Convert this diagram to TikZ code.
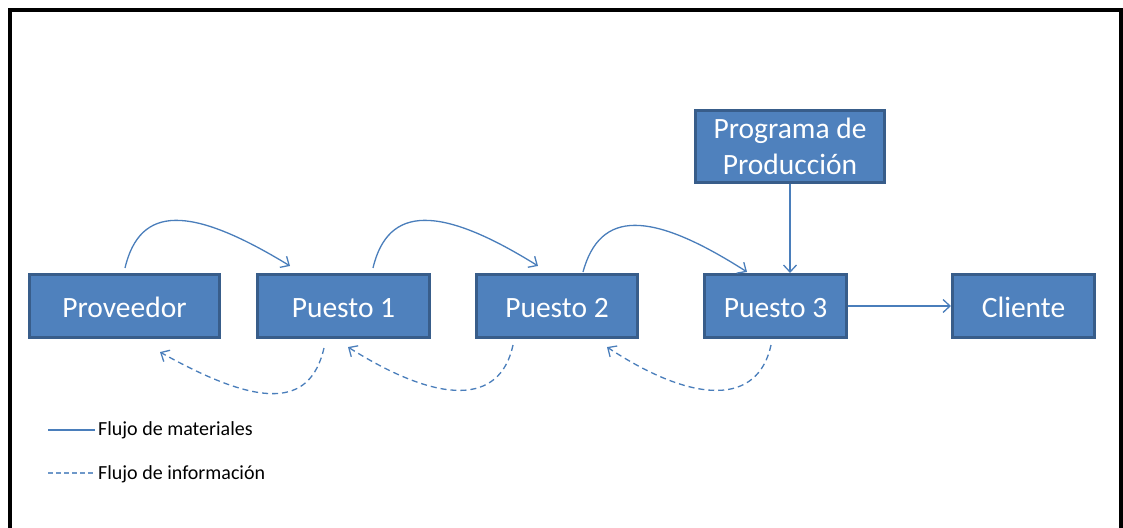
\documentclass[tikz,border=0pt]{standalone}
\usepackage{fontspec}
\setmainfont{Carlito}
\usetikzlibrary{arrows.meta,calc}

\definecolor{boxfill}{HTML}{4F81BD}
\definecolor{boxline}{HTML}{385D8A}
\definecolor{flowline}{HTML}{4A7EBB}

\tikzset{
  stage/.style={draw=boxline, fill=boxfill, line width=2.6pt,
    minimum height=63.5pt, text=white, inner sep=0pt,
    font=\fontsize{29.5}{36}\selectfont, text height=22pt, text depth=0pt},
  planbox/.style={draw=boxline, fill=boxfill, line width=2.6pt,
    minimum width=189.5pt, minimum height=72.5pt, text=white, inner sep=0pt,
    align=center, font=\fontsize{29.5}{36}\selectfont},
  tipbarb/.style={-{Straight Barb[length=7pt,width=13pt,line width=1.3pt]}},
  material/.style={draw=flowline, line width=1.3pt, tipbarb},
  info/.style={draw=flowline, line width=1.3pt, dash pattern=on 6pt off 4pt, tipbarb},
  legendtext/.style={anchor=west, inner sep=0pt, font=\fontsize{20}{24}\selectfont}
}

\begin{document}
\begin{tikzpicture}[x=1pt, y=-1pt]
  \useasboundingbox (0,0) rectangle (1123,527);

  % outer frame (open at the bottom edge of the page)
  \draw[line width=3.2pt, line cap=rect] (10,527) -- (10,10) -- (1121,10) -- (1121,527);

  % stations of the process
  \node[stage, minimum width=190.5pt] (prov) at (124.5,306) {Proveedor};
  \node[stage, minimum width=172.5pt] (p1)   at (343.5,306) {Puesto 1};
  \node[stage, minimum width=161.5pt] (p2)   at (557,306)   {Puesto 2};
  \node[stage, minimum width=142.5pt] (p3)   at (775.5,306) {Puesto 3};
  \node[stage, minimum width=142.5pt] (cli)  at (1023.5,306) {Cliente};
  \node[planbox] (prog) at (790,146.5) {Programa de\\Producción};

  % material flow
  \draw[material] ([xshift=0.5pt,yshift=5pt]prov.north)
    .. controls ($(prov.north)+(15.5,-68)$) and ($(prov.north)+(65.5,-68)$)
    .. ([xshift=-53.5pt,yshift=7pt]p1.north);
  \draw[material] ([xshift=29.5pt,yshift=5pt]p1.north)
    .. controls ($(p1.north)+(44.5,-68)$) and ($(p1.north)+(96.5,-68)$)
    .. ([xshift=-19pt,yshift=7pt]p2.north);
  \draw[material] ([xshift=26pt,yshift=1pt]p2.north)
    .. controls ($(p2.north)+(43,-63)$) and ($(p2.north)+(93,-63)$)
    .. ([xshift=-28.5pt,yshift=1pt]p3.north);
  \draw[material] (prog.south) -- (prog.south |- p3.north);
  \draw[material] (p3.east) -- (cli.west);

  % information flow
  \draw[info] ([xshift=-19.5pt,yshift=-9pt]p1.south)
    .. controls ($(p1.south)+(-33.5,69)$) and ($(p1.south)+(-83.5,69)$)
    .. ([xshift=35.5pt,yshift=-13pt]prov.south);
  \draw[info] ([xshift=-44pt,yshift=-6pt]p2.south)
    .. controls ($(p2.south)+(-57,66)$) and ($(p2.south)+(-117,66)$)
    .. ([xshift=4.5pt,yshift=-8pt]p1.south);
  \draw[info] ([xshift=-4.5pt,yshift=-6pt]p3.south)
    .. controls ($(p3.south)+(-17.5,66)$) and ($(p3.south)+(-80.5,66)$)
    .. ([xshift=50pt,yshift=-8pt]p2.south);

  % legend
  \coordinate (lgA) at (48,430);
  \coordinate (lgB) at (48,473);
  \node[legendtext] (lgmat) at (98,430) {Flujo de materiales};
  \node[legendtext] (lginf) at (98,474) {Flujo de información};
  \draw[draw=flowline, line width=1.3pt] (lgA) -- ([xshift=-3pt]lgmat.west |- lgA);
  \draw[draw=flowline!80, line width=1.3pt, dash pattern=on 5pt off 3pt] (lgB) -- ([xshift=-3pt]lginf.west |- lgB);
\end{tikzpicture}
\end{document}
